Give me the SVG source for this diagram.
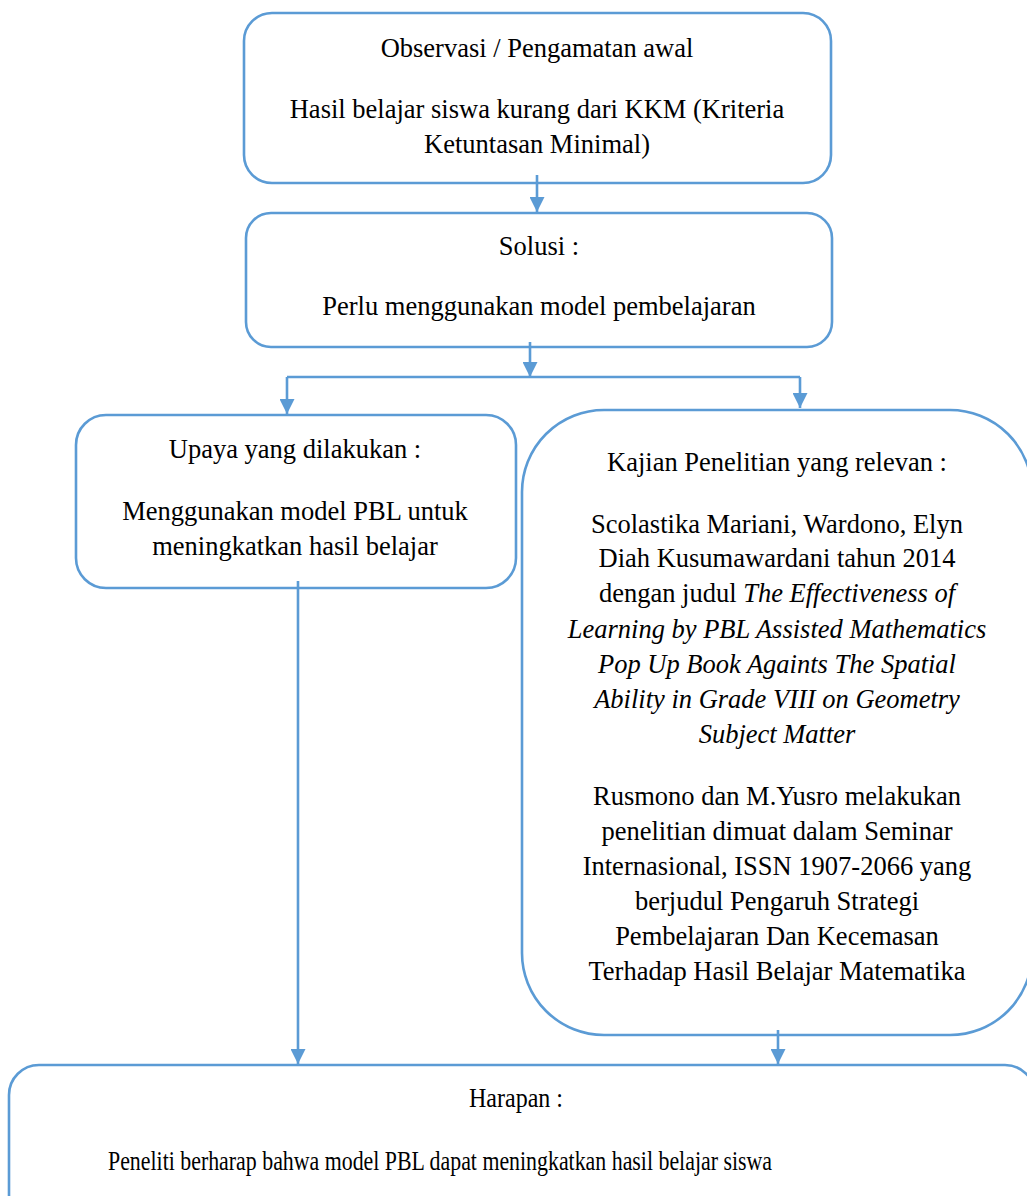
<svg xmlns="http://www.w3.org/2000/svg" width="1027" height="1196" viewBox="0 0 1027 1196">
<style>
.box{fill:#fff;stroke:#5B9BD5;stroke-width:2.6}
.con{fill:none;stroke:#5B9BD5;stroke-width:2.6}
text{font-family:"Liberation Serif","Times New Roman",serif;font-size:26.5px;fill:#000;text-anchor:middle}
.it{font-style:italic}
.bt{font-size:27.5px}
</style>
<defs>
<marker id="ah" viewBox="0 0 10 10" refX="10" refY="5" markerWidth="15" markerHeight="15" markerUnits="userSpaceOnUse" orient="auto">
<path d="M0,0 L10,5 L0,10 z" fill="#5B9BD5"/>
</marker>
</defs>
<rect width="1027" height="1196" fill="#fff"/>
<g id="n1">
<rect class="box" x="244" y="13" width="587" height="170" rx="28"/>
<text x="537" y="57">Observasi / Pengamatan awal</text>
<text x="537" y="118">Hasil belajar siswa kurang dari KKM (Kriteria</text>
<text x="537" y="153">Ketuntasan Minimal)</text>
</g>
<g id="n2">
<rect class="box" x="246" y="213" width="586" height="134" rx="25"/>
<text x="539" y="255">Solusi :</text>
<text x="539" y="315">Perlu menggunakan model pembelajaran</text>
</g>
<g id="n3">
<rect class="box" x="76" y="415" width="440" height="173" rx="30"/>
<text x="295" y="458">Upaya yang dilakukan :</text>
<text x="295" y="520">Menggunakan model PBL untuk</text>
<text x="295" y="555">meningkatkan hasil belajar</text>
</g>
<g id="n4">
<rect class="box" x="522" y="410" width="510" height="625" rx="82"/>
<text x="777" y="471">Kajian Penelitian yang relevan :</text>
<text x="777" y="533">Scolastika Mariani, Wardono, Elyn</text>
<text x="777" y="567">Diah Kusumawardani tahun 2014</text>
<text x="777" y="602">dengan judul <tspan class="it">The Effectiveness of</tspan></text>
<text x="777" y="638" class="it">Learning by PBL Assisted Mathematics</text>
<text x="777" y="673" class="it">Pop Up Book Againts The Spatial</text>
<text x="777" y="708" class="it">Ability in Grade VIII on Geometry</text>
<text x="777" y="743" class="it">Subject Matter</text>
<text x="777" y="805">Rusmono dan M.Yusro melakukan</text>
<text x="777" y="840">penelitian dimuat dalam Seminar</text>
<text x="777" y="875">Internasional, ISSN 1907-2066 yang</text>
<text x="777" y="910">berjudul Pengaruh Strategi</text>
<text x="777" y="945">Pembelajaran Dan Kecemasan</text>
<text x="777" y="980">Terhadap Hasil Belajar Matematika</text>
</g>
<g id="n5">
<rect class="box" x="9" y="1065" width="1026" height="160" rx="30"/>
<text class="bt" x="516" y="1107" textLength="94" lengthAdjust="spacingAndGlyphs">Harapan :</text>
<text class="bt" x="440" y="1170" textLength="664" lengthAdjust="spacingAndGlyphs">Peneliti berharap bahwa model PBL dapat  meningkatkan hasil belajar siswa</text>
</g>
<g id="connectors">
<path class="con" d="M537,175 V212" marker-end="url(#ah)"/>
<path class="con" d="M530,342 V377" marker-end="url(#ah)"/>
<path class="con" d="M287,377 H800"/>
<path class="con" d="M287,377 V414" marker-end="url(#ah)"/>
<path class="con" d="M800,377 V408" marker-end="url(#ah)"/>
<path class="con" d="M298,581 V1064" marker-end="url(#ah)"/>
<path class="con" d="M778,1030 V1064" marker-end="url(#ah)"/>
</g>
</svg>
